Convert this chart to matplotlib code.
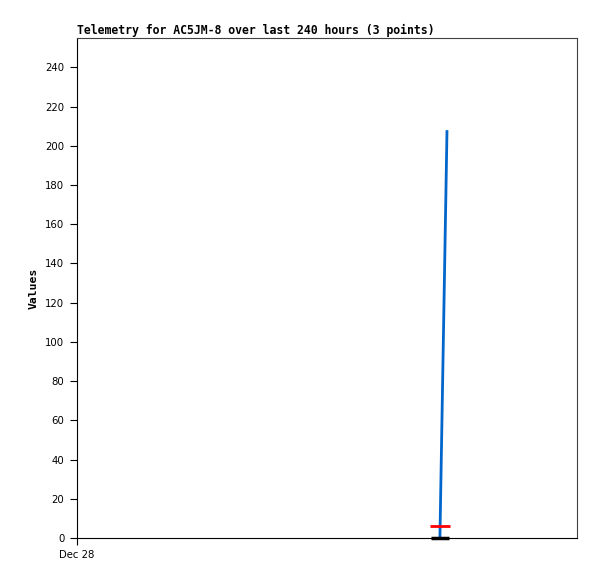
import matplotlib.pyplot as plt

# 数据（小时，从 Dec 28 起算）
blue_hours = [174.2, 177.6]
blue_values = [0, 208]
red_hours = [174.2]
red_values = [6]
black_hours = [174.2]
black_values = [0]

y_ticks = list(range(0, 241, 20))
x_tick_hours = [0]
x_tick_labels = ["Dec 28"]

fig = plt.figure(figsize=(5.97, 5.79), dpi=100)
ax = fig.add_axes([77 / 597, 41 / 579, 500 / 597, 500 / 579])

ax.plot(blue_hours, blue_values, color="#0066cc", linewidth=2, solid_capstyle="butt")
ax.plot(red_hours, red_values, linestyle="none", marker="_", markersize=14,
        markeredgewidth=2, color="#ff0000")
ax.plot(black_hours, black_values, linestyle="none", marker="_", markersize=13,
        markeredgewidth=2.5, color="#000000", clip_on=False)

ax.set_xlim(0, 240)
ax.set_ylim(0, 255)
ax.set_yticks(y_ticks)
ax.set_xticks(x_tick_hours)
ax.set_xticklabels(x_tick_labels)
ax.tick_params(direction="out", length=5, width=0.8, labelsize=7.3, pad=4)
for lab in ax.get_xticklabels() + ax.get_yticklabels():
    lab.set_family("DejaVu Sans")

for s in ["top", "right"]:
    ax.spines[s].set_color("#404040")
for s in ["left", "bottom"]:
    ax.spines[s].set_color("#000000")

ax.set_ylabel("Values", family="DejaVu Sans Mono", fontweight="bold", fontsize=8.2, labelpad=5)
ax.set_title("Telemetry for AC5JM-8 over last 240 hours (3 points)", loc="left",
             family="DejaVu Sans Mono", fontweight="bold", fontsize=8.3, pad=3)

plt.savefig("out.png", dpi=100)
